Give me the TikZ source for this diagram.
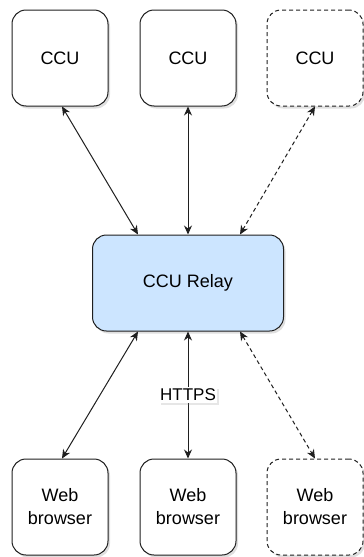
\documentclass[tikz,border=0pt]{standalone}
\usepackage{fontspec}
\setmainfont{Liberation Sans}
\usetikzlibrary{arrows.meta,shadows,calc}
\definecolor{relayfill}{HTML}{CCE5FF}
\definecolor{strokec}{HTML}{1F1F1F}
\begin{document}
\begin{tikzpicture}[x=1pt,y=-1pt,
  box/.style={draw=strokec, line width=1pt, rounded corners=14pt,
    minimum width=96pt, minimum height=96pt, fill=white, align=center,
    inner sep=0pt, font=\fontsize{18}{23}\selectfont,
    drop shadow={shadow xshift=2pt, shadow yshift=-2.5pt, opacity=0.25}},
  dbox/.style={box, dash pattern=on 4pt off 3pt},
  relaybox/.style={box, fill=relayfill, minimum width=191pt},
  arr/.style={line width=1pt, draw=strokec,
    {Stealth[length=9pt,width=8pt]}-{Stealth[length=9pt,width=8pt]}},
  darr/.style={arr, dash pattern=on 4pt off 3pt},
  lbl/.style={fill=white, inner sep=1.5pt, font=\fontsize{17}{20}\selectfont,
    drop shadow={shadow xshift=2pt, shadow yshift=-2pt, opacity=0.2}}
]
\useasboundingbox (0,0) rectangle (364,557);
% top CCU boxes
\node[box]  (c1) at (60,58)    {CCU};
\node[box]  (c2) at (188,58)   {CCU};
\node[dbox] (c3) at (315,58)   {CCU};
% relay
\node[relaybox] (relay) at (188,283) {CCU Relay};
% web browsers
\node[box]  (w1) at (60,507)   {Web\\browser};
\node[box]  (w2) at (188,507)  {Web\\browser};
\node[dbox] (w3) at (315,507)  {Web\\browser};
% connectors top
\draw[arr]  ([xshift=2pt]c1.south) -- ([xshift=-50pt]relay.north);
\draw[arr]  (c2.south) -- (relay.north);
\draw[darr] (c3.south) -- ([xshift=52pt]relay.north);
% connectors bottom
\draw[arr]  ([xshift=-50pt]relay.south) -- ([xshift=2pt]w1.north);
\draw[arr]  (relay.south) -- node[lbl] {HTTPS} (w2.north);
\draw[darr] ([xshift=52pt]relay.south) -- (w3.north);
\end{tikzpicture}
\end{document}
